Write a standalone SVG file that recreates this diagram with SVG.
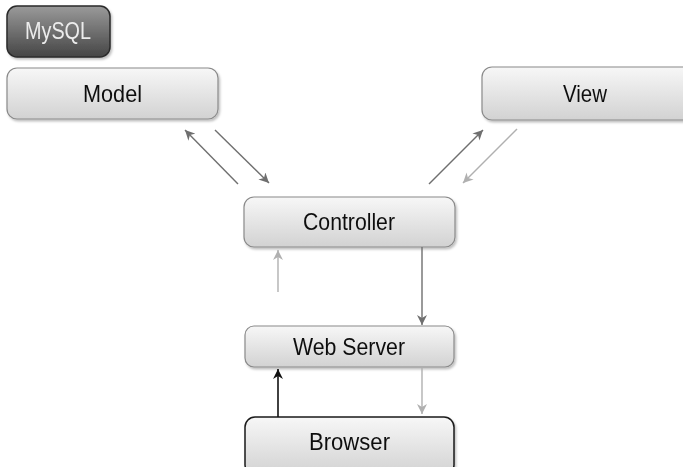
<svg xmlns="http://www.w3.org/2000/svg" width="683" height="467" viewBox="0 0 683 467">
<style>
.box{fill:url(#lg);stroke:#8a8a8a;stroke-width:1.2}
.dark{fill:url(#dg);stroke:#2a2a2a;stroke-width:1.5}
.strong{fill:url(#lg);stroke:#1a1a1a;stroke-width:1.5}
.lbl{font-family:"Liberation Sans",Arial,sans-serif;font-size:24px;fill:#111;text-anchor:middle}
.lblw{fill:#ececec}
.a1{stroke:#6f6f6f;stroke-width:1.4;fill:none;marker-end:url(#h1)}
.a2{stroke:#b0b0b0;stroke-width:1.4;fill:none;marker-end:url(#h2)}
.a3{stroke:#111;stroke-width:1.6;fill:none;marker-end:url(#h3)}
</style>
<defs>
<linearGradient id="lg" x1="0" y1="0" x2="0" y2="1">
<stop offset="0" stop-color="#f7f7f7"/><stop offset="1" stop-color="#d2d2d2"/>
</linearGradient>
<linearGradient id="dg" x1="0" y1="0" x2="0" y2="1">
<stop offset="0" stop-color="#9a9a9a"/><stop offset="1" stop-color="#454545"/>
</linearGradient>
<filter id="sh" x="-5%" y="-10%" width="110%" height="130%">
<feDropShadow dx="1.5" dy="2" stdDeviation="1.2" flood-color="#000" flood-opacity="0.25"/>
</filter>
<marker id="h1" viewBox="0 0 10 10" refX="10" refY="5" markerWidth="10" markerHeight="10" markerUnits="userSpaceOnUse" orient="auto"><path d="M0,0 L10,5 L0,10 L3,5 Z" fill="#6f6f6f"/></marker>
<marker id="h2" viewBox="0 0 10 10" refX="10" refY="5" markerWidth="10" markerHeight="10" markerUnits="userSpaceOnUse" orient="auto"><path d="M0,0 L10,5 L0,10 L3,5 Z" fill="#b0b0b0"/></marker>
<marker id="h3" viewBox="0 0 10 10" refX="10" refY="5" markerWidth="10" markerHeight="10" markerUnits="userSpaceOnUse" orient="auto"><path d="M0,0 L10,5 L0,10 L3,5 Z" fill="#111"/></marker>
</defs>
<rect width="683" height="467" fill="#fff"/>
<g id="mysql" filter="url(#sh)"><rect class="dark" x="7" y="6" width="103" height="51" rx="10"/><text class="lbl lblw" x="58" y="39" textLength="66" lengthAdjust="spacingAndGlyphs">MySQL</text></g>
<g id="model" filter="url(#sh)"><rect class="box" x="7" y="68" width="211" height="51" rx="10"/><text class="lbl" x="112.5" y="102" textLength="59" lengthAdjust="spacingAndGlyphs">Model</text></g>
<g id="view" filter="url(#sh)"><rect class="box" x="482" y="67" width="215" height="53" rx="10"/><text class="lbl" x="585" y="102" textLength="44" lengthAdjust="spacingAndGlyphs">View</text></g>
<g id="controller" filter="url(#sh)"><rect class="box" x="244" y="197" width="211" height="50" rx="10"/><text class="lbl" x="349" y="230" textLength="92" lengthAdjust="spacingAndGlyphs">Controller</text></g>
<g id="webserver" filter="url(#sh)"><rect class="box" x="245" y="326" width="209" height="41" rx="9"/><text class="lbl" x="349" y="355" textLength="112" lengthAdjust="spacingAndGlyphs">Web Server</text></g>
<g id="browser" filter="url(#sh)"><rect class="strong" x="245" y="417" width="209" height="58" rx="10"/><text class="lbl" x="349.5" y="450" textLength="81" lengthAdjust="spacingAndGlyphs">Browser</text></g>
<g id="connectors">
<line class="a1" x1="238" y1="184" x2="185" y2="130"/>
<line class="a1" x1="215" y1="130" x2="269" y2="183"/>
<line class="a1" x1="429" y1="184" x2="483" y2="130"/>
<line class="a2" x1="517" y1="129" x2="463" y2="183"/>
<line class="a2" x1="278" y1="292" x2="278" y2="250"/>
<line class="a1" x1="422" y1="247" x2="422" y2="325"/>
<line class="a3" x1="278" y1="417" x2="278" y2="369"/>
<line class="a2" x1="422" y1="368" x2="422" y2="414"/>
</g>
</svg>
